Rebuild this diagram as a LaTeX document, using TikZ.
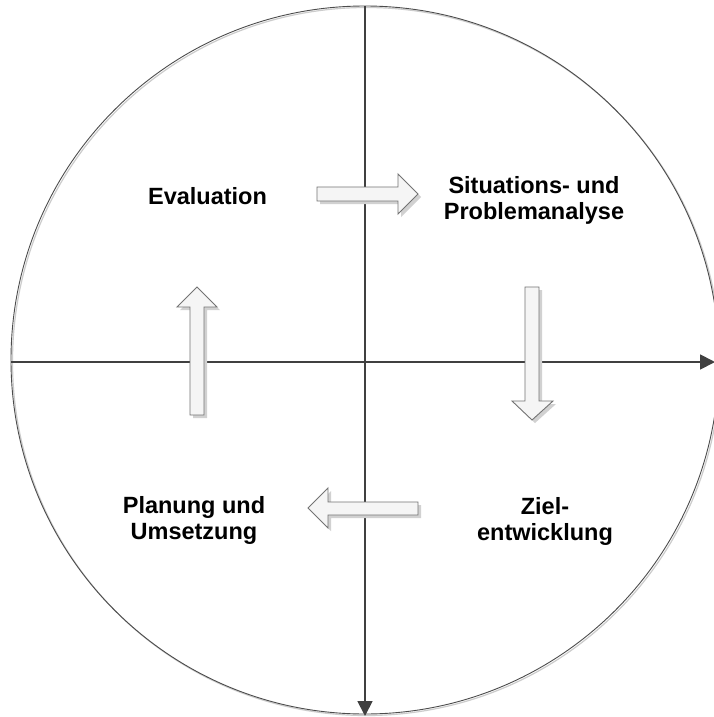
\documentclass[tikz,border=0pt]{standalone}
\usepackage{fontspec}
\setmainfont{Liberation Sans}
\usetikzlibrary{arrows.meta}
\tikzset{
  axis/.style={draw=black!75, line width=1.8pt, -{Triangle[length=15pt,width=15pt]}},
  blockarrow/.style={draw=black!55, line width=0.9pt, fill=black!4, line join=miter},
  blockshadow/.style={fill=black!18, draw=none},
  label/.style={font=\bfseries\fontsize{23.5pt}{26pt}\selectfont, align=center, inner sep=0pt, anchor=base}
}
\begin{document}
\begin{tikzpicture}[x=1pt,y=-1pt]
\useasboundingbox (0,0) rectangle (714,717);
\fill[white] (0,0) rectangle (714,717);
% circle
\coordinate (c) at (365,360);
\draw[black!20, line width=1.2pt] (366.5,361.5) circle[radius=354];
\draw[black!70, line width=0.9pt] (c) circle[radius=354];
% axes
\coordinate (vtop) at (365,6);
\coordinate (vbot) at (365,716);
\coordinate (hleft) at (11,362);
\coordinate (hright) at (715,362);
\draw[axis] (vtop) -- (vbot);
\draw[axis] (hleft) -- (hright);
% block arrows
\def\rarrow{(317,187) -- (398,187) -- (398,174) -- (418,194) -- (398,214) -- (398,201) -- (317,201) -- cycle}
\def\darrow{(525,287) -- (539,287) -- (539,401) -- (553,401) -- (532,420) -- (512,401) -- (525,401) -- cycle}
\def\uarrow{(190,415) -- (190,307) -- (177,307) -- (197,287) -- (217,307) -- (204,307) -- (204,415) -- cycle}
\def\larrow{(418,502) -- (328,502) -- (328,488) -- (308,508) -- (328,528) -- (328,515) -- (418,515) -- cycle}
\foreach \p in {\rarrow,\darrow,\uarrow,\larrow}{
  \fill[blockshadow, shift={(3pt,-3pt)}] \p;
  \filldraw[blockarrow] \p;
}
% labels (base = baseline of last line)
\node[label] (eval) at (207.5,204) {Evaluation};
\node[label] (sit) at (534,219) {Situations- und\\Problemanalyse};
\node[label] (plan) at (194,539) {Planung und\\Umsetzung};
\node[label] (ziel) at (545,540) {Ziel-\\entwicklung};
\end{tikzpicture}
\end{document}
